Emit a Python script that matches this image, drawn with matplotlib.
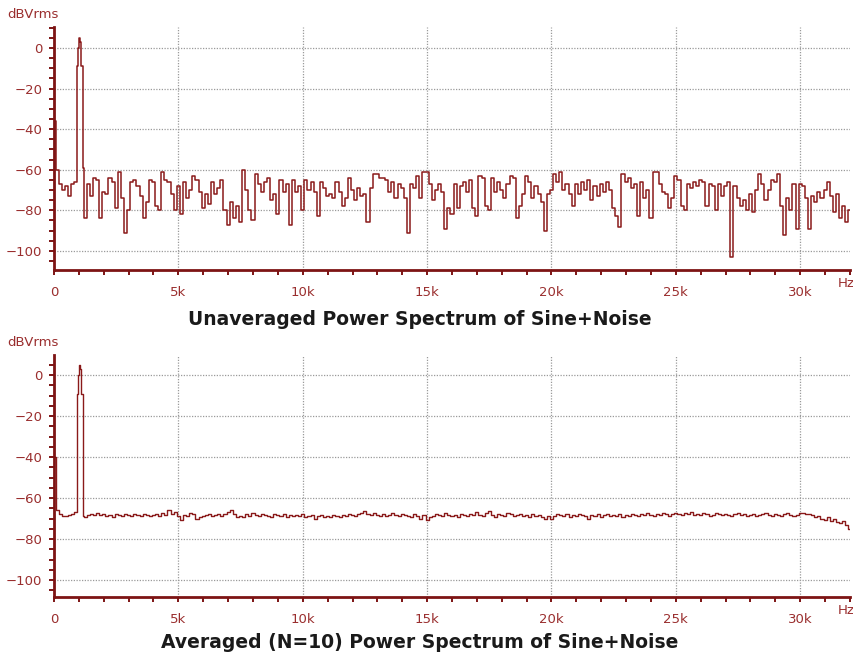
import numpy as np
import matplotlib
matplotlib.use("Agg")
import matplotlib.pyplot as plt
from matplotlib.ticker import MultipleLocator, FuncFormatter

# ---------------- data ----------------
# noise floor samples every 125 Hz (0 .. 875 Hz, then 1250 .. 32000 Hz)
top_low = [-36, -60, -67, -70, -68, -73, -67, -66]
top_peak_f = [900, 940, 970, 985, 1010, 1050, 1090, 1150, 1170, 1200]
top_peak_db = [-66, -9, -9, 0, 5, 3, -9, -9, -58, -59]
top_rest = [
    -84, -67, -73, -64, -65, -84,
    -71, -72, -64, -66, -79, -61, -74, -91,
    -80, -66, -65, -68, -73, -84, -76, -65,
    -66, -78, -80, -61, -65, -66, -72, -80,
    -68, -82, -66, -74, -70, -63, -65, -71,
    -79, -72, -77, -66, -72, -69, -65, -80,
    -87, -76, -84, -78, -86, -60, -70, -80,
    -85, -62, -67, -71, -66, -64, -75, -72,
    -82, -65, -71, -67, -87, -65, -71, -68,
    -80, -65, -70, -66, -71, -83, -66, -69,
    -73, -72, -74, -66, -71, -78, -74, -64,
    -70, -75, -69, -73, -72, -86, -69, -62,
    -62, -64, -64, -65, -71, -66, -74, -67,
    -69, -74, -91, -67, -69, -63, -74, -61,
    -61, -67, -75, -70, -67, -71, -89, -79,
    -82, -67, -79, -68, -66, -71, -65, -79,
    -83, -63, -64, -78, -80, -64, -71, -66,
    -70, -74, -67, -63, -64, -84, -78, -72,
    -63, -66, -74, -68, -72, -76, -90, -72,
    -70, -62, -66, -61, -70, -67, -72, -78,
    -67, -72, -66, -70, -65, -75, -68, -73,
    -67, -71, -66, -70, -79, -83, -88, -62,
    -66, -64, -69, -67, -83, -66, -74, -70,
    -84, -61, -61, -67, -71, -72, -79, -74,
    -63, -65, -78, -80, -67, -69, -66, -68,
    -65, -66, -78, -67, -68, -80, -67, -73,
    -68, -66, -103, -68, -74, -78, -75, -80,
    -72, -81, -70, -62, -67, -75, -70, -65,
    -66, -62, -78, -92, -74, -80, -67, -89,
    -67, -68, -74, -89, -73, -76, -71, -74,
    -70, -66, -73, -81, -72, -84, -78, -86,
    -80,
]

avg_low = [-40, -66, -68, -69, -69, -68.5, -68, -67]
avg_peak_f = [900, 940, 970, 985, 1010, 1050, 1090, 1150, 1170, 1200]
avg_peak_db = [-67, -9, -9, 0, 5, 3, -9, -9, -60, -69]
avg_rest = [
    -69.5, -68.5, -68, -68.5, -67.5, -68.5,
    -68, -69, -68.5, -69.5, -68, -68.5, -69, -68,
    -68.5, -69, -68, -68.5, -69, -68, -68.5, -69,
    -68.5, -68, -69, -67.5, -68.5, -66, -68, -67,
    -69, -70.5, -68.5, -69, -67.5, -68, -70, -69.5,
    -69, -68.5, -68, -69, -68.5, -68, -69, -68,
    -67, -66, -68, -69.5, -69, -69.5, -68, -69,
    -67.5, -68.5, -69, -68, -68.5, -69, -69.5, -68,
    -68.5, -69, -68, -69.5, -68.5, -69, -68.5, -69,
    -68, -69.5, -69, -68.5, -70, -69, -68.5, -69.5,
    -69, -69.5, -68.5, -69, -69.5, -68.5, -69, -68,
    -68.5, -69, -68, -67.5, -66.5, -68, -68.5, -67.5,
    -68.5, -69, -68, -69, -68.5, -67.5, -68.5, -69,
    -68, -68.5, -69, -69.5, -68, -69, -70, -68.5,
    -70.5, -69.5, -69, -68, -68.5, -69, -67.5, -68.5,
    -69, -68.5, -69.5, -68, -68.5, -69, -68, -68.5,
    -67, -68.5, -69, -67.5, -66.5, -68.5, -69.5, -68,
    -68.5, -69, -67.5, -68, -69, -68.5, -68, -69,
    -68.5, -69.5, -68, -69, -68.5, -69.5, -70, -69,
    -70, -69, -68, -68.5, -69, -68, -69.5, -68.5,
    -69, -68, -68.5, -69, -70, -68.5, -69, -68,
    -69.5, -68.5, -68, -69, -68.5, -69, -68, -69.5,
    -68.5, -69, -68, -68.5, -69, -68, -68.5, -67.5,
    -68.5, -69, -68, -68.5, -67.5, -68, -69, -68,
    -67.5, -68, -68.5, -67.5, -68, -67, -68.5, -68,
    -68.5, -67.5, -68, -69, -68.5, -67.5, -68, -68.5,
    -68, -68.5, -69, -68, -67.5, -68.5, -68, -69,
    -68.5, -68, -69, -68.5, -68, -67.5, -68.5, -69,
    -68, -68.5, -69, -68, -67.5, -68.5, -69, -68.5,
    -67.5, -67.5, -68, -68, -68.5, -69.5, -69, -70,
    -70.5, -69.5, -71, -70, -71.5, -72, -71, -73,
    -75,
]

titles = ["Unaveraged Power Spectrum of Sine+Noise",
          "Averaged (N=10) Power Spectrum of Sine+Noise"]

# ---------------- build frequency grids ----------------
step = 125
f_low = np.arange(len(top_low)) * step
f_rest = 1250 + np.arange(len(top_rest)) * step
top_f = np.concatenate([f_low, top_peak_f, f_rest])
top_db = np.concatenate([top_low, top_peak_db, top_rest])
avg_f = np.concatenate([np.arange(len(avg_low)) * step, avg_peak_f,
                        1250 + np.arange(len(avg_rest)) * step])
avg_db = np.concatenate([avg_low, avg_peak_db, avg_rest])

# ---------------- styling ----------------
W, H = 854, 655
fig = plt.figure(figsize=(W / 100, H / 100), dpi=100)
spine_c = "#7d1414"
line_c = "#8a1a1a"
text_c = "#9a2e2e"
grid_c = "#9a9a9a"

def khz(v, pos):
    if v == 0:
        return "0"
    return f"{int(round(v / 1000))}k"

def setup(ax, ylim):
    ax.set_xlim(0, 32000)
    ax.set_ylim(*ylim)
    for s in ("top", "right"):
        ax.spines[s].set_visible(False)
    for s in ("left", "bottom"):
        ax.spines[s].set_color(spine_c)
        ax.spines[s].set_linewidth(2.0)
    ax.xaxis.set_major_locator(MultipleLocator(5000))
    ax.xaxis.set_minor_locator(MultipleLocator(1000))
    ax.yaxis.set_major_locator(MultipleLocator(20))
    ax.yaxis.set_minor_locator(MultipleLocator(5))
    ax.xaxis.set_major_formatter(FuncFormatter(khz))
    ax.tick_params(axis="both", which="both", direction="out", color=spine_c,
                   width=1.4, length=3.5, labelcolor=text_c, labelsize=9.5)
    ax.tick_params(axis="x", which="major", pad=8)
    ax.tick_params(axis="y", which="major", pad=5)
    ax.grid(True, which="major", color=grid_c, linestyle=(0, (1, 1.2)),
            linewidth=0.9)
    ax.set_axisbelow(True)
    ax.annotate("dBVrms", xy=(0, 1), xycoords="axes fraction",
                xytext=(-15, 4), textcoords="offset points",
                ha="center", va="bottom", color=text_c, fontsize=9.5)
    ax.annotate("Hz", xy=(1, 0), xycoords="axes fraction",
                xytext=(3, -5), textcoords="offset points",
                ha="right", va="top", color=text_c, fontsize=9.5)

ax1 = fig.add_axes([54 / W, 1 - 270 / H, (850 - 54) / W, (270 - 27) / H])
setup(ax1, (-109.4, 10.3))
ax1.plot(top_f, top_db, color=line_c, linewidth=1.1, drawstyle="steps-mid")

ax2 = fig.add_axes([54 / W, 1 - 597 / H, (850 - 54) / W, (597 - 355) / H])
setup(ax2, (-108.3, 9.8))
ax2.plot(avg_f, avg_db, color=line_c, linewidth=1.0, drawstyle="steps-mid")

fig.text(420 / W, 1 - 320 / H, titles[0], ha="center", va="center",
         fontsize=13.5, fontweight="bold", color="#1a1a1a")
fig.text(420 / W, 1 - 642 / H, titles[1], ha="center", va="center",
         fontsize=13.5, fontweight="bold", color="#1a1a1a")

fig.savefig("out.png", dpi=100)
